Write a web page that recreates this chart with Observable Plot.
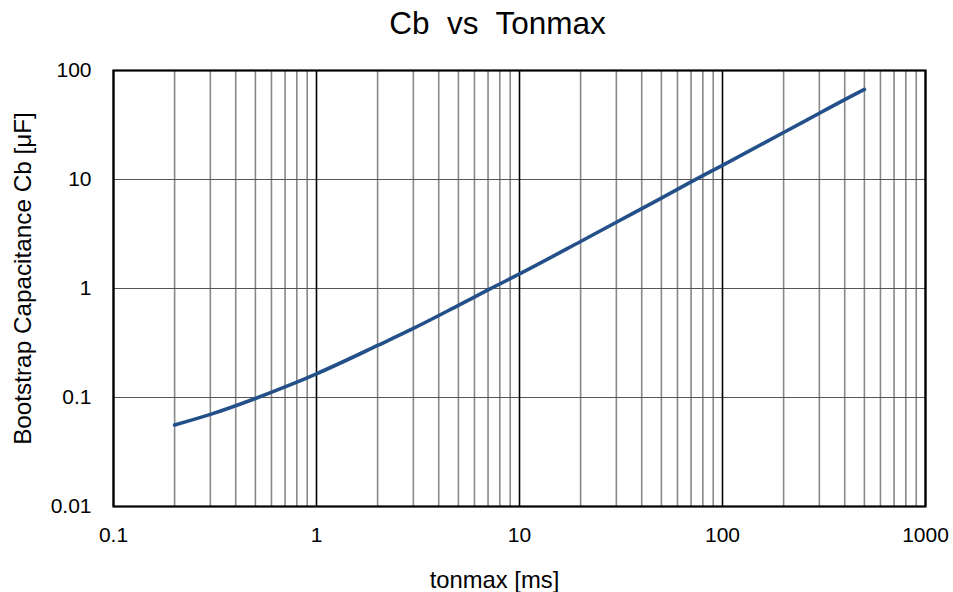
<!DOCTYPE html>
<html>
<head>
<meta charset="utf-8">
<script src="https://cdn.jsdelivr.net/npm/d3@7"></script>
<script src="https://cdn.jsdelivr.net/npm/@observablehq/plot@0.6"></script>
<style>
  html, body { margin: 0; padding: 0; background: #fff; }
  #chart svg { display: block; }
</style>
</head>
<body>
<div id="chart"></div>
<script>
// Data
const tonmax = [0.2, 0.3, 0.5, 0.7, 1, 2, 3, 5, 7, 10, 20, 30, 50, 70, 100, 200, 300, 400, 500];
const cb     = [0.056, 0.070, 0.098, 0.125, 0.165, 0.30, 0.43, 0.70, 0.97, 1.36, 2.7, 4.05, 6.75, 9.5, 13.5, 27, 40.5, 54, 67];

const xMajorTicks = [0.1, 1, 10, 100, 1000];
const xMinorTicks = [0.2, 0.3, 0.4, 0.5, 0.6, 0.7, 0.8, 0.9,
                     2, 3, 4, 5, 6, 7, 8, 9,
                     20, 30, 40, 50, 60, 70, 80, 90,
                     200, 300, 400, 500, 600, 700, 800, 900];
const xTickLabels = ["0.1", "1", "10", "100", "1000"];
const yMajorTicks = [0.01, 0.1, 1, 10, 100];
const yTickLabels = ["0.01", "0.1", "1", "10", "100"];

const title = "Cb  vs  Tonmax";
const xLabel = "tonmax [ms]";
const yLabel = "Bootstrap Capacitance Cb [\u03bcF]";

const data = tonmax.map((t, i) => ({t, c: cb[i]}));
const xFmt = d => xTickLabels[xMajorTicks.indexOf(d)];
const yFmt = d => yTickLabels[yMajorTicks.indexOf(d)];

const chart = Plot.plot({
  width: 953,
  height: 592,
  marginTop: 70,
  marginBottom: 86,
  marginLeft: 113,
  marginRight: 28,
  style: {fontFamily: "'Liberation Sans', Arial, sans-serif", background: "#fff"},
  x: {type: "log", domain: [0.1, 1000]},
  y: {type: "log", domain: [0.01, 100]},
  marks: [
    Plot.gridX(xMinorTicks, {stroke: "#888", strokeOpacity: 1, strokeWidth: 1.6}),
    Plot.gridY(yMajorTicks, {stroke: "#555", strokeOpacity: 1, strokeWidth: 1.2}),
    Plot.ruleX(xMajorTicks, {stroke: "#000", strokeWidth: 1.6}),
    Plot.frame({stroke: "#000", strokeWidth: 2.2}),
    Plot.axisX(xMajorTicks, {
      tickSize: 0, tickPadding: 21, fontSize: 21, label: null,
      tickFormat: xFmt
    }),
    Plot.axisY(yMajorTicks, {
      tickSize: 0, tickPadding: 22, fontSize: 21, label: null,
      tickFormat: yFmt
    }),
    Plot.lineY(data, {x: "t", y: "c", stroke: "#24508a", strokeWidth: 3.6, curve: "monotone-x"}),
    Plot.text([title], {frameAnchor: "top", lineAnchor: "middle", dy: -47, dx: -22, fontSize: 31.5, fill: "#000", text: d => d}),
    Plot.text([xLabel], {frameAnchor: "bottom", lineAnchor: "middle", dy: 74, dx: -25, fontSize: 23.8, fill: "#000", text: d => d}),
    Plot.text([yLabel], {frameAnchor: "left", dx: -90, dy: -10, rotate: -90, textAnchor: "middle", fontSize: 24.3, fill: "#000", text: d => d})
  ]
});
document.getElementById("chart").append(chart);
</script>
</body>
</html>
